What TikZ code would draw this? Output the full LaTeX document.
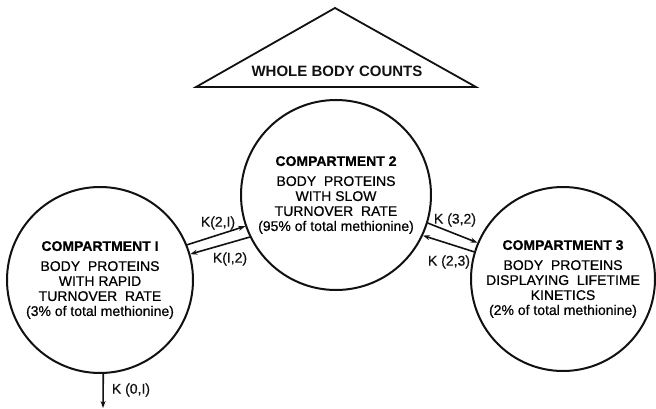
\documentclass[tikz,border=0pt]{standalone}
\usepackage{fontspec}
\setmainfont{Liberation Sans}[FakeBold=0]
\usepackage{tikz}
\usetikzlibrary{arrows.meta}
\definecolor{murekkep}{HTML}{111111}
\newfontfamily\kalin{Liberation Sans}[FakeBold=0.6]
\tikzset{
  bolme/.style={circle,draw=murekkep,line width=2pt,inner sep=0pt,align=center,
    font=\kalin\fontsize{14}{15}\selectfont},
  akis/.style={line width=1.6pt,murekkep,-{Stealth[length=7pt,width=5pt]}},
  hiz/.style={font=\kalin\fontsize{14}{15}\selectfont,murekkep}
}
\newcommand{\baslik}[1]{{\bfseries #1}\\[5pt]}

\begin{document}
\begin{tikzpicture}[x=1pt,y=-1pt]
\useasboundingbox (0,0) rectangle (656,409);
\draw[line width=1.8pt,murekkep] (196,87)--(335,8)--(476,87)--cycle;
\node[font=\fontsize{15}{15}\selectfont\bfseries,murekkep] (sayim) at (337,71) {WHOLE\ BODY\ COUNTS};
\node[bolme,minimum size=186pt] (c1) at (100,280) {\baslik{COMPARTMENT I}BODY\ \ PROTEINS\\WITH RAPID\\TURNOVER\ \ RATE\\(3\% of total methionine)};
\node[bolme,minimum size=190pt] (c2) at (336,195) {\baslik{COMPARTMENT 2}BODY\ \ PROTEINS\\WITH SLOW\\TURNOVER\ \ RATE\\(95\% of total methionine)};
\node[bolme,minimum size=184pt] (c3) at (563,279) {\baslik{COMPARTMENT 3}BODY\ \ PROTEINS\\DISPLAYING\ \ LIFETIME\\KINETICS\\(2\% of total methionine)};
\draw[akis] (c1.22)--(c2.199);
\draw[akis] (c2.206)--(c1.16);
\draw[akis] (c2.-17)--(c3.157);
\draw[akis] (c3.163)--(c2.-25);
\coordinate (disari) at (103,408);
\draw[akis] (c1.-88)--(disari);
\node[hiz] (k21) at (218,223) {K(2,I)};
\node[hiz] (k12) at (230,259) {K(I,2)};
\node[hiz] (k32) at (455,220) {K (3,2)};
\node[hiz] (k23) at (449,262) {K (2,3)};
\node[hiz] (k01) at (131,390) {K (0,I)};
\end{tikzpicture}
\end{document}
